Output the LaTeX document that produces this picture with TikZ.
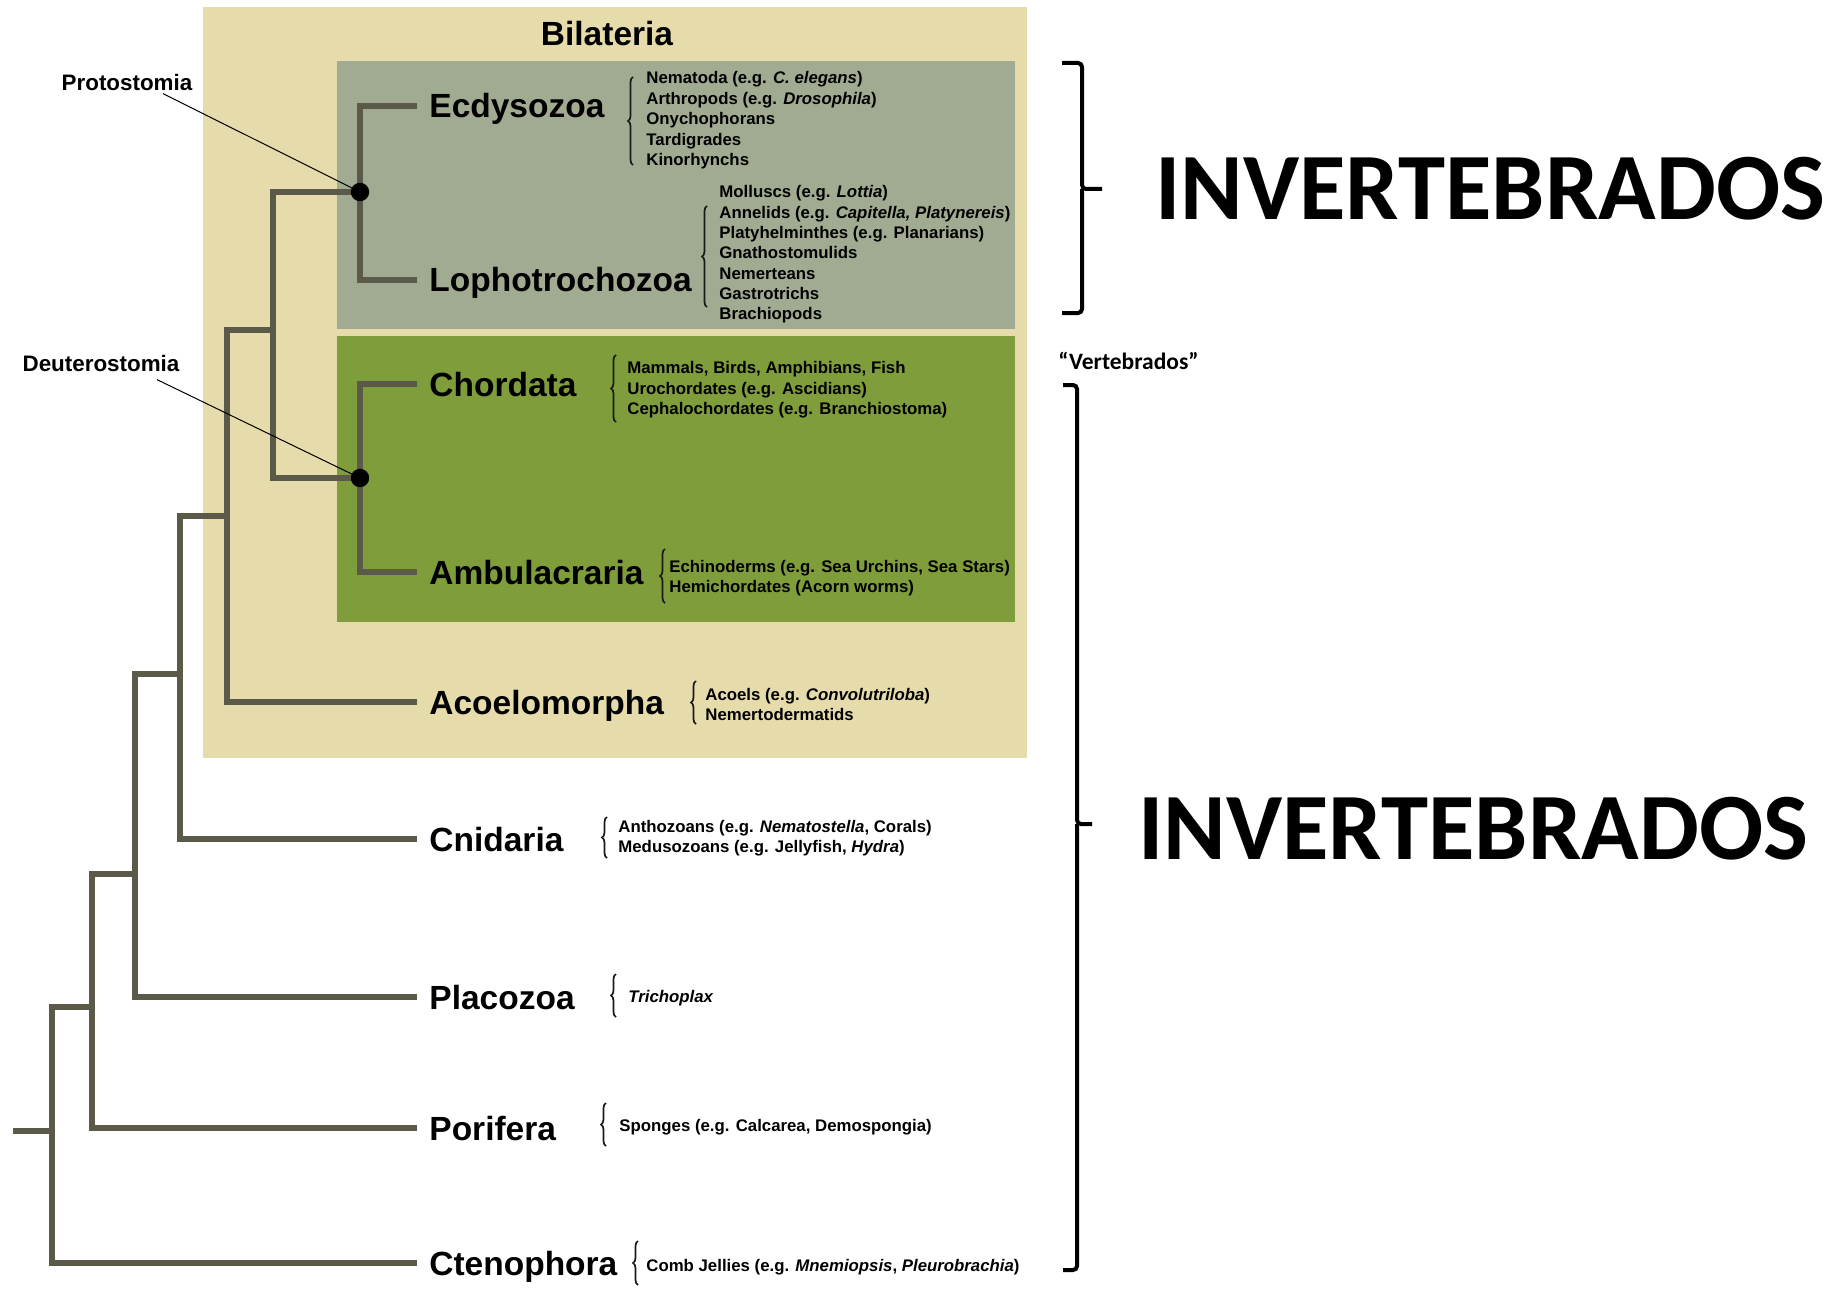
\documentclass[tikz,border=0pt]{standalone}
\usepackage{fontspec}
\setmainfont{Liberation Sans}
\newfontfamily\calibrifont{Carlito}
\usetikzlibrary{decorations.pathreplacing}

\definecolor{bilabg}{HTML}{E5DBAB}
\definecolor{protobg}{HTML}{A1AB91}
\definecolor{deutbg}{HTML}{7F9D3A}
\definecolor{branch}{HTML}{5B5948}

\begin{document}
\begin{tikzpicture}[x=0.5pt, y=-0.5pt,
        branchline/.style={draw=branch, line width=3.25pt, line join=miter},
        clade/.style={font=\bfseries\fontsize{16.75}{20}\selectfont, inner sep=0pt, anchor=base west},
        taxon/.style={font=\bfseries\fontsize{8.4}{10}\selectfont, inner sep=0pt, anchor=base west},
        grouplab/.style={font=\bfseries\fontsize{11.2}{13}\selectfont, inner sep=1pt, anchor=base},
        clbrace/.style={decorate, decoration={brace, amplitude=2.5pt}, line width=0.85pt, draw=black!90},
        bigbrace/.style={line width=2pt, rounded corners=2pt},
        bigtext/.style={font=\calibrifont\bfseries\fontsize{47.5}{50}\selectfont, inner sep=0pt, anchor=base west},
        pointer/.style={draw, line width=0.5pt}]
        \useasboundingbox (0,0) rectangle (1835,1289);

        % Coloured boxes
        \fill[bilabg] (203,7) rectangle (1027,758);
        \fill[protobg] (337,61) rectangle (1015,329);
        \fill[deutbg] (337,336) rectangle (1015,622);
        \node[clade, anchor=base] (bilateria) at (607,46) {Bilateria};

        % Internal nodes
        \coordinate (proto) at (360,192);
        \coordinate (deut) at (360,478);
        \coordinate (nephro) at (273,330);
        \coordinate (bilat) at (227,516);
        \coordinate (planul) at (180,674);
        \coordinate (para) at (135,874);
        \coordinate (porif) at (92,1007);
        \coordinate (root) at (52,1131);
        \coordinate (stem) at (13,1131);

        % Tips
        \coordinate (ecdyT) at (417,106);
        \coordinate (lophT) at (417,280);
        \coordinate (chordT) at (417,384);
        \coordinate (ambuT) at (417,572);
        \coordinate (acoeT) at (417,702);
        \coordinate (cnidT) at (417,839);
        \coordinate (placT) at (417,997);
        \coordinate (porT) at (417,1128);
        \coordinate (ctenT) at (417,1263);

        % Branches
        \draw[branchline] (ecdyT) -| (proto) |- (lophT);
        \draw[branchline] (chordT) -| (deut) |- (ambuT);
        \draw[branchline] (proto) -| (nephro) |- (deut);
        \draw[branchline] (nephro) -| (bilat) |- (acoeT);
        \draw[branchline] (bilat) -| (planul) |- (cnidT);
        \draw[branchline] (planul) -| (para) |- (placT);
        \draw[branchline] (para) -| (porif) |- (porT);
        \draw[branchline] (porif) -| (root) |- (ctenT);
        \draw[branchline] (stem) -- (root);
        \fill (proto) circle (4.6pt);
        \fill (deut) circle (4.6pt);

        % Group labels
        \node[grouplab] (protolab) at (127,91) {Protostomia};
        \node[grouplab] (deutlab) at (101,371) {Deuterostomia};
        \draw[pointer] ([xshift=18pt]protolab.south) -- (proto);
        \draw[pointer] ([xshift=28pt, yshift=-3pt]deutlab.south) -- (deut);

        % Clade names
        \node[clade] (ecdy) at ([shift={(12,12)}]ecdyT) {Ecdysozoa};
        \node[clade] (loph) at ([shift={(12,12)}]lophT) {Lophotrochozoa};
        \node[clade] (chord) at ([shift={(12,12)}]chordT) {Chordata};
        \node[clade] (ambu) at ([shift={(12,12)}]ambuT) {Ambulacraria};
        \node[clade] (acoe) at ([shift={(12,12)}]acoeT) {Acoelomorpha};
        \node[clade] (cnid) at ([shift={(12,12)}]cnidT) {Cnidaria};
        \node[clade] (plac) at ([shift={(12,12)}]placT) {Placozoa};
        \node[clade] (por) at ([shift={(12,12)}]porT) {Porifera};
        \node[clade] (cten) at ([shift={(12,12)}]ctenT) {Ctenophora};

        % Member lists
        \draw[clbrace] (633,165) -- (633,77);
        \foreach \t [count=\i] in {Nematoda (e.g. \textit{C. elegans}), Arthropods (e.g. \textit{Drosophila}),
            Onychophorans, Tardigrades, Kinorhynchs} {
            \node[taxon] (ecdy\i) at (646, {84+20.5*(\i-1)}) {\t};
        }
        \draw[clbrace] (707,307) -- (707,206);
        \foreach \t [count=\i] in {Molluscs (e.g. \textit{Lottia}), {Annelids (e.g. \textit{Capitella, Platynereis})},
            Platyhelminthes (e.g. Planarians), Gnathostomulids, Nemerteans, Gastrotrichs, Brachiopods} {
            \node[taxon] (loph\i) at (719, {198+20.3*(\i-1)}) {\t};
        }
        \draw[clbrace] (616,422) -- (616,355);
        \foreach \t [count=\i] in {{Mammals, Birds, Amphibians, Fish}, Urochordates (e.g. Ascidians),
            Cephalochordates (e.g. Branchiostoma)} {
            \node[taxon] (chord\i) at (627, {373.5+20.5*(\i-1)}) {\t};
        }
        \draw[clbrace] (665,603) -- (665,549);
        \foreach \t [count=\i] in {{Echinoderms (e.g. Sea Urchins, Sea Stars)}, Hemichordates (Acorn worms)} {
            \node[taxon] (ambu\i) at (669, {572+20.5*(\i-1)}) {\t};
        }
        \draw[clbrace] (696,724) -- (696,681);
        \foreach \t [count=\i] in {Acoels (e.g. \textit{Convolutriloba}), Nemertodermatids} {
            \node[taxon] (acoe\i) at (705, {700+20.5*(\i-1)}) {\t};
        }
        \draw[clbrace] (607,858) -- (607,817);
        \foreach \t [count=\i] in {{Anthozoans (e.g. \textit{Nematostella}, Corals)}, {Medusozoans (e.g. Jellyfish, \textit{Hydra})}} {
            \node[taxon] (cnid\i) at (618, {832+20.5*(\i-1)}) {\t};
        }
        \draw[clbrace] (616,1017) -- (616,974);
        \node[taxon] (plac1) at (628,1002) {\textit{Trichoplax}};
        \draw[clbrace] (606,1146) -- (606,1103);
        \node[taxon] (por1) at (619,1131) {Sponges (e.g. Calcarea, Demospongia)};
        \draw[clbrace] (638,1285) -- (638,1241);
        \node[taxon] (cten1) at (646,1271) {Comb Jellies (e.g. \textit{Mnemiopsis}, \textit{Pleurobrachia})};

        % Right side
        \draw[bigbrace] (1062,63) -| (1082,189) -- (1102,189);
        \draw[bigbrace] (1082,189) |- (1062,313);
        \node[bigtext] (invtop) at (1155,220) {INVERTEBRADOS};
        \node[font=\calibrifont\bfseries\fontsize{11.75}{14}\selectfont, inner sep=0pt, anchor=base west] (vert) at (1058,369) {“Vertebrados”};
        \draw[bigbrace] (1063,385) -| (1077,824) -- (1092,824);
        \draw[bigbrace] (1077,824) |- (1063,1270);
        \node[bigtext] (invbot) at (1138,859) {INVERTEBRADOS};
    \end{tikzpicture}
\end{document}
